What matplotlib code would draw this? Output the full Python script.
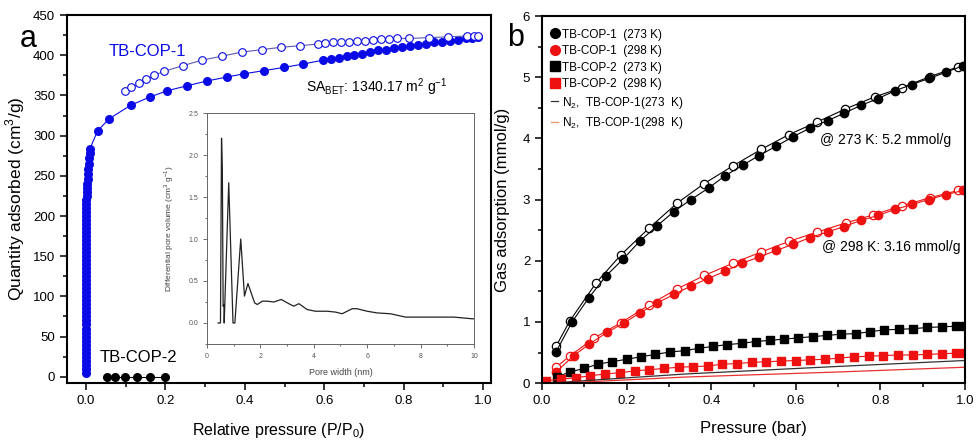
import matplotlib
matplotlib.use("Agg")
from matplotlib import pyplot as plt
from matplotlib.ticker import MultipleLocator
from matplotlib.lines import Line2D

plt.rcParams['font.family'] = ['Liberation Sans', 'DejaVu Sans']
plt.rcParams['mathtext.fontset'] = 'custom'
plt.rcParams['mathtext.rm'] = 'Liberation Sans'

# ---- panel a: N2 isotherms ----
cop1_ads_x = [0.0, 0.0, 0.0, 0.0, 0.0, 0.0, 0.0, 0.0, 0.0, 0.0, 0.0, 0.0, 0.0,
              0.0, 0.0, 0.0, 0.0, 0.0, 0.0, 0.0, 0.0, 0.0, 0.0, 0.0, 0.0, 0.0,
              0.0, 0.0, 0.0, 0.0, 0.0, 0.0, 0.0, 0.0, 0.0, 0.0, 0.0, 0.0, 0.0,
              0.0, 0.001, 0.001, 0.001, 0.001, 0.002, 0.002, 0.002, 0.003,
              0.004, 0.005, 0.006, 0.007, 0.008, 0.009, 0.01,
              0.029, 0.058, 0.113, 0.16, 0.205, 0.254, 0.304, 0.355, 0.398,
              0.449, 0.499, 0.546, 0.596, 0.616, 0.637, 0.656, 0.676, 0.695,
              0.715, 0.736, 0.755, 0.775, 0.795, 0.816, 0.836, 0.856, 0.876,
              0.896, 0.916, 0.937, 0.957, 0.972, 0.987]
cop1_ads_y = [5, 10, 15, 20, 25, 30, 35, 40, 45, 50, 55, 60, 65, 70, 75, 80,
              85, 90, 95, 100, 105, 110, 115, 120, 125, 130, 135, 140, 145,
              150, 155, 160, 165, 170, 175, 180, 185, 190, 195, 200, 205, 210,
              215, 220, 225, 230, 235, 240, 246, 252, 258, 265, 272, 279, 284,
              306, 321, 338, 348, 356, 362, 368, 373, 377, 381, 385, 389, 394,
              396, 397, 399, 401, 402, 404, 406, 407, 409, 410, 412, 413, 414,
              416, 417, 418, 419, 421, 422, 423]
cop1_des_x = [0.097, 0.114, 0.134, 0.152, 0.172, 0.196, 0.243, 0.292, 0.343,
              0.392, 0.442, 0.491, 0.54, 0.583, 0.603, 0.622, 0.642, 0.663,
              0.683, 0.703, 0.723, 0.744, 0.764, 0.784, 0.814, 0.864, 0.912,
              0.959, 0.977, 0.987]
cop1_des_y = [356, 360, 365, 370, 375, 380, 387, 394, 399, 404, 407, 410, 412,
              414, 415, 416, 416, 417, 418, 418, 419, 420, 420, 421, 421, 422,
              423, 424, 424, 424]
cop2_x = [0.053, 0.074, 0.099, 0.129, 0.16, 0.199]
cop2_y = [0, 0, 0, 0, 0, 0]

# inset: pore size distribution
pore_w = [0.41, 0.5, 0.54, 0.57, 0.6, 0.63, 0.64, 0.81, 0.97, 1.04, 1.26, 1.4,
          1.53, 1.78, 1.88, 2.07, 2.25, 2.5, 2.78, 3.12, 3.25, 3.44, 3.75,
          4.06, 4.5, 4.81, 5.06, 5.44, 5.62, 6.0, 6.37, 6.87, 7.44, 9.25,
          9.94, 10.0]
pore_v = [0.0, 0.0, 2.2, 1.85, 0.2, 0.22, 0.0, 1.67, 0.0, 0.0, 1.0, 0.32, 0.47,
          0.24, 0.22, 0.26, 0.26, 0.25, 0.28, 0.22, 0.2, 0.23, 0.16, 0.14,
          0.14, 0.13, 0.11, 0.17, 0.17, 0.14, 0.12, 0.11, 0.07, 0.07, 0.05,
          0.05]

# ---- panel b: CO2 / N2 uptake ----
c1_273_ads_x = [0.033, 0.071, 0.11, 0.151, 0.192, 0.231, 0.272, 0.311, 0.352,
                0.394, 0.433, 0.474, 0.513, 0.553, 0.594, 0.634, 0.675, 0.714,
                0.754, 0.794, 0.835, 0.874, 0.915, 0.955, 0.996]
c1_273_ads_y = [0.51, 1.0, 1.39, 1.75, 2.03, 2.32, 2.57, 2.8, 3.0, 3.19, 3.39,
                3.56, 3.72, 3.87, 4.03, 4.17, 4.29, 4.41, 4.54, 4.65, 4.78, 4.88,
                4.98, 5.08, 5.19]
c1_273_des_x = [0.033, 0.065, 0.128, 0.187, 0.254, 0.319, 0.383, 0.451, 0.518,
                0.583, 0.651, 0.717, 0.787, 0.851, 0.917, 0.984]
c1_273_des_y = [0.6, 1.01, 1.64, 2.1, 2.54, 2.94, 3.26, 3.55, 3.82, 4.06, 4.27,
                4.48, 4.68, 4.83, 5.01, 5.17]
c1_298_ads_x = [0.033, 0.075, 0.112, 0.154, 0.193, 0.232, 0.272, 0.312, 0.353,
                0.393, 0.433, 0.473, 0.513, 0.554, 0.594, 0.634, 0.675, 0.714,
                0.754, 0.794, 0.835, 0.875, 0.914, 0.955, 0.996]
c1_298_ads_y = [0.18, 0.45, 0.64, 0.83, 0.98, 1.15, 1.31, 1.45, 1.59, 1.71,
                1.83, 1.96, 2.06, 2.17, 2.27, 2.38, 2.47, 2.56, 2.66, 2.74, 2.84,
                2.92, 3.0, 3.08, 3.15]
c1_298_des_x = [0.033, 0.065, 0.124, 0.187, 0.254, 0.319, 0.384, 0.451, 0.517,
                0.585, 0.651, 0.719, 0.783, 0.851, 0.917, 0.984]
c1_298_des_y = [0.26, 0.44, 0.74, 0.99, 1.28, 1.54, 1.76, 1.96, 2.14, 2.32,
                2.47, 2.62, 2.75, 2.9, 3.03, 3.15]
c2_273_x = [0.035, 0.065, 0.099, 0.132, 0.165, 0.2, 0.233, 0.268, 0.303, 0.337,
            0.37, 0.405, 0.437, 0.472, 0.505, 0.539, 0.573, 0.606, 0.64, 0.674,
            0.708, 0.742, 0.775, 0.809, 0.844, 0.878, 0.911, 0.945, 0.979, 1.0]
c2_273_y = [0.1, 0.18, 0.24, 0.31, 0.35, 0.39, 0.43, 0.47, 0.51, 0.53, 0.57,
            0.6, 0.63, 0.65, 0.68, 0.7, 0.72, 0.74, 0.76, 0.78, 0.8, 0.81, 0.84,
            0.87, 0.88, 0.89, 0.91, 0.92, 0.93, 0.94]
c2_298_x = [0.01, 0.046, 0.08, 0.114, 0.148, 0.184, 0.219, 0.253, 0.288, 0.323,
            0.358, 0.392, 0.426, 0.46, 0.496, 0.53, 0.564, 0.6, 0.634, 0.669,
            0.703, 0.738, 0.772, 0.807, 0.842, 0.876, 0.911, 0.946, 0.979, 1.0]
c2_298_y = [0.04, 0.065, 0.09, 0.12, 0.15, 0.17, 0.2, 0.22, 0.24, 0.26, 0.27,
            0.28, 0.31, 0.32, 0.34, 0.35, 0.36, 0.37, 0.38, 0.39, 0.41, 0.43,
            0.44, 0.45, 0.46, 0.46, 0.47, 0.48, 0.49, 0.5]
n2_273_x = [0.02, 0.1, 0.34, 0.69, 1.0]
n2_273_y = [0.0, 0.04, 0.15, 0.27, 0.37]
n2_298_x = [0.02, 0.1, 0.34, 0.69, 1.0]
n2_298_y = [0.0, 0.02, 0.1, 0.18, 0.26]

blue = '#0a0ae6'
red = '#ee1111'

fig = plt.figure(figsize=(9.77, 4.45), dpi=100)
ax1 = fig.add_axes([0.0686, 0.139, 0.434, 0.827])
ax2 = fig.add_axes([0.5548, 0.139, 0.4329, 0.825])

for ax in (ax1, ax2):
    for s in ax.spines.values():
        s.set_linewidth(1.5)
    ax.tick_params(which='both', direction='out', labelsize=9.5, width=1.1)
    ax.tick_params(which='major', length=5)
    ax.tick_params(which='minor', length=3)

# panel a
ax1.plot(cop1_ads_x, cop1_ads_y, '-o', color=blue, mfc=blue, mec=blue, ms=5.5,
         lw=0.8)
ax1.plot(cop1_des_x, cop1_des_y, '-o', color='#5a5ab0', mfc='white', mec=blue,
         ms=5.5, lw=0.8, mew=0.8)
ax1.plot(cop2_x, cop2_y, '-o', color='black', ms=5.5, lw=0.8)
ax1.set_xlim(-0.048, 1.02)
ax1.set_ylim(-8, 450)
ax1.xaxis.set_major_locator(MultipleLocator(0.2))
ax1.xaxis.set_minor_locator(MultipleLocator(0.1))
ax1.yaxis.set_major_locator(MultipleLocator(50))
ax1.yaxis.set_minor_locator(MultipleLocator(25))
ax1.set_xlabel('Relative pressure (P/P$_0$)', fontsize=11.5, labelpad=10)
ax1.set_ylabel('Quantity adsorbed (cm$^3$/g)', fontsize=12.5, labelpad=4)
ax1.text(-0.111, 0.935, 'a', transform=ax1.transAxes, fontsize=22,
         ha='left', va='center')
ax1.text(0.057, 405, 'TB-COP-1', color=blue, fontsize=12, va='center')
ax1.text(0.035, 24, 'TB-COP-2', color='black', fontsize=12, va='center')
ax1.text(0.553, 360, 'SA$_\\mathregular{BET}$: 1340.17 m$^\\mathregular{2}$ g$^\\mathregular{-1}$',
         fontsize=10, va='center')

# inset
axi = fig.add_axes([0.212, 0.227, 0.273, 0.519])
axi.plot(pore_w, pore_v, color='#222222', lw=0.9)
axi.set_xlim(0, 10)
axi.set_ylim(-0.25, 2.5)
axi.xaxis.set_major_locator(MultipleLocator(2))
axi.xaxis.set_minor_locator(MultipleLocator(1))
axi.yaxis.set_major_locator(MultipleLocator(0.5))
axi.yaxis.set_minor_locator(MultipleLocator(0.25))
axi.tick_params(which='both', direction='out', labelsize=5, width=0.6,
                colors='#555555')
axi.tick_params(which='major', length=3)
axi.tick_params(which='minor', length=1.5)
for s in axi.spines.values():
    s.set_linewidth(0.7)
    s.set_color('#666666')
axi.set_xlabel('Pore width (nm)', fontsize=6.5, color='#444444', labelpad=6)
axi.set_ylabel('Differential pore volume (cm$^3$ g$^{-1}$)', fontsize=6,
               color='#444444', labelpad=9)

# panel b
ax2.plot(c1_273_des_x, c1_273_des_y, '-o', color='black', mfc='white',
         mec='black', ms=6, lw=0.8, mew=0.9)
ax2.plot(c1_273_ads_x, c1_273_ads_y, '-o', color='black', ms=6, lw=0.8)
ax2.plot(c1_298_des_x, c1_298_des_y, '-o', color=red, mfc='white',
         mec=red, ms=6, lw=0.8, mew=0.9)
ax2.plot(c1_298_ads_x, c1_298_ads_y, '-o', color=red, ms=6, lw=0.8)
ax2.plot(c2_273_x, c2_273_y, '-s', color='black', ms=5.5, lw=0.8)
ax2.plot(c2_298_x, c2_298_y, '-s', color=red, ms=5.5, lw=0.8)
ax2.plot(n2_273_x, n2_273_y, '-', color='#333333', lw=0.9)
ax2.plot(n2_298_x, n2_298_y, '-', color='#e83030', lw=0.9)
ax2.set_xlim(0, 1.0)
ax2.set_ylim(0, 6)
ax2.xaxis.set_major_locator(MultipleLocator(0.2))
ax2.xaxis.set_minor_locator(MultipleLocator(0.1))
ax2.yaxis.set_major_locator(MultipleLocator(1))
ax2.yaxis.set_minor_locator(MultipleLocator(0.5))
ax2.set_xlabel('Pressure (bar)', fontsize=12, labelpad=10)
ax2.set_ylabel('Gas adsorption (mmol/g)', fontsize=12, labelpad=9)
ax2.text(-0.083, 0.94, 'b', transform=ax2.transAxes, fontsize=22,
         ha='left', va='center')
ax2.text(0.657, 3.97, '@ 273 K: 5.2 mmol/g', fontsize=10, va='center')
ax2.text(0.662, 2.22, '@ 298 K: 3.16 mmol/g', fontsize=10, va='center')

handles = [
    Line2D([], [], ls='none', marker='o', color='black', ms=7),
    Line2D([], [], ls='none', marker='o', color=red, ms=7),
    Line2D([], [], ls='none', marker='s', color='black', ms=7),
    Line2D([], [], ls='none', marker='s', color=red, ms=7),
    Line2D([], [], color='#333333', lw=0.9),
    Line2D([], [], color='#e8906a', lw=0.9),
]
labels = ['TB-COP-1  (273 K)', 'TB-COP-1  (298 K)', 'TB-COP-2  (273 K)',
          'TB-COP-2  (298 K)', 'N$_2$,  TB-COP-1(273  K)',
          'N$_2$,  TB-COP-1(298  K)']
ax2.legend(handles, labels, loc='upper left', bbox_to_anchor=(0.005, 0.985),
           frameon=False, fontsize=8.5, handlelength=0.6, handletextpad=0.3,
           labelspacing=0.38, borderaxespad=0.2)

fig.savefig('out.png', dpi=100)
